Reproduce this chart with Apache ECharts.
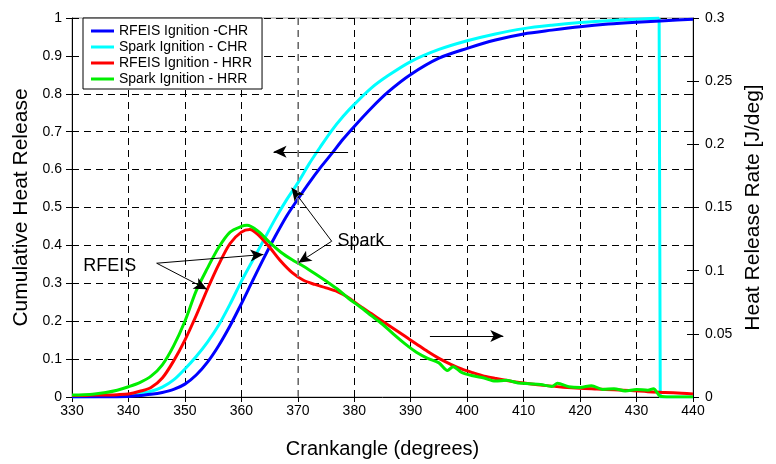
<!DOCTYPE html>
<html>
<head>
<meta charset="utf-8">
<script src="https://cdn.jsdelivr.net/npm/echarts@6/dist/echarts.min.js"></script>
<style>
  html, body { margin: 0; padding: 0; background: #fff; }
  #chart { width: 776px; height: 464px; }
</style>
</head>
<body>
<div id="chart"></div>
<script>
// Cumulative heat release (fraction) vs crank angle
const rfeisCHRx = [330, 335, 338, 340, 342, 344, 346, 348, 350, 352, 354, 356, 358, 360, 362, 364, 366, 368, 370, 372, 374, 376, 378, 380, 383, 386, 390, 395, 400, 405, 410, 415, 420, 425, 430, 435, 440];
const rfeisCHR = [0, 0, 0, 0.001, 0.004, 0.007, 0.012, 0.02, 0.034, 0.058, 0.092, 0.136, 0.188, 0.246, 0.307, 0.367, 0.424, 0.477, 0.522, 0.565, 0.605, 0.642, 0.68, 0.714, 0.762, 0.805, 0.851, 0.894, 0.92, 0.942, 0.958, 0.968, 0.977, 0.984, 0.989, 0.993, 0.997];

const sparkCHRx = [330, 335, 338, 340, 342, 344, 346, 348, 350, 352, 354, 356, 358, 360, 362, 364, 366, 368, 370, 372, 374, 376, 378, 380, 383, 386, 390, 395, 400, 405, 410, 415, 420, 425, 430, 434];
const sparkCHR = [0, 0.001, 0.003, 0.005, 0.009, 0.015, 0.026, 0.045, 0.074, 0.107, 0.145, 0.19, 0.245, 0.305, 0.36, 0.415, 0.47, 0.52, 0.565, 0.615, 0.66, 0.703, 0.74, 0.772, 0.815, 0.848, 0.885, 0.917, 0.94, 0.958, 0.972, 0.981, 0.988, 0.993, 0.997, 1.0];
// the spark CHR trace falls straight to zero here and stays there
const sparkDropX = [434, 434.2, 440];
const sparkDrop = [1.0, 0, 0];

// Heat release rate [J/deg] vs crank angle
const rfeisHRRx = [330, 332, 334, 336, 338, 340, 342, 344, 346, 348, 350, 352, 354, 356, 358, 360, 361.5, 363, 365, 367, 369, 371, 373, 375, 377, 379, 381, 383, 385, 387, 389, 391, 393, 395, 397, 399, 401, 403, 405, 408, 411, 414, 417, 420, 423, 426, 429, 432, 435, 438, 440];
const rfeisHRR = [0.0012, 0.0012, 0.0015, 0.0015, 0.0018, 0.0024, 0.0045, 0.0075, 0.015, 0.0285, 0.045, 0.0645, 0.0855, 0.105, 0.1215, 0.1305, 0.1326, 0.1284, 0.1185, 0.1074, 0.0984, 0.0924, 0.0891, 0.0864, 0.0834, 0.0786, 0.072, 0.066, 0.06, 0.054, 0.048, 0.042, 0.036, 0.0306, 0.0261, 0.0222, 0.0192, 0.0165, 0.0147, 0.0123, 0.0105, 0.009, 0.0078, 0.0069, 0.0063, 0.0057, 0.0051, 0.0042, 0.0036, 0.003, 0.0024];

const sparkHRRx = [330, 332, 334, 336, 338, 340, 342, 344, 346, 348, 350, 352, 354, 356, 358, 360, 361, 363, 365, 367, 369, 371, 373, 375, 377, 379, 381, 383, 385, 387, 389, 391, 393, 395, 396.5, 397.5, 399, 401, 403, 405, 407, 409, 411, 413, 415, 416, 418, 420, 422, 424, 426, 428, 430, 432, 433, 434.2, 436, 440];
const sparkHRR = [0.0015, 0.0018, 0.0024, 0.0036, 0.0054, 0.0081, 0.0114, 0.0165, 0.0255, 0.0405, 0.06, 0.084, 0.102, 0.1185, 0.1305, 0.135, 0.1359, 0.1311, 0.1224, 0.1146, 0.1086, 0.1035, 0.0978, 0.0918, 0.0855, 0.078, 0.0714, 0.0645, 0.0576, 0.0495, 0.042, 0.0354, 0.0306, 0.027, 0.021, 0.024, 0.0195, 0.0168, 0.015, 0.0126, 0.0132, 0.0111, 0.0105, 0.0099, 0.0084, 0.0108, 0.0081, 0.0075, 0.009, 0.006, 0.0066, 0.0048, 0.006, 0.0054, 0.0066, 0.0006, 0, 0];

const seriesNames = ['RFEIS Ignition -CHR', 'Spark Ignition - CHR', 'RFEIS Ignition - HRR', 'Spark Ignition - HRR'];

const FONT = 'Liberation Sans, Arial, sans-serif';
const pairs = (xs, ys) => xs.map((x, i) => [x, ys[i]]);

const chart = echarts.init(document.getElementById('chart'));

const dashed = { color: '#000', width: 1, type: [7, 5] };
const tickStyle = { color: '#000', width: 1 };

// arrows, in (crank angle, cumulative heat release) coordinates
const arrows = [
  [[378.9, 0.647], [365.7, 0.647]],
  [[393.4, 0.161], [406.4, 0.161]],
  [[376.0, 0.411], [368.9, 0.552]],
  [[376.0, 0.411], [370.1, 0.354]],
  [[345.0, 0.353], [363.9, 0.376]],
  [[345.0, 0.353], [353.9, 0.284]]
];

const option = {
  animation: false,
  backgroundColor: '#fff',
  textStyle: { fontFamily: FONT },
  grid: {
    left: 72, right: 83, top: 18, bottom: 66,
    show: true, borderColor: '#999', borderWidth: 1
  },
  legend: {
    orient: 'vertical',
    left: 83, top: 18,
    padding: [6, 10, 3, 8],
    itemGap: 2,
    itemWidth: 23, itemHeight: 3,
    icon: 'rect',
    backgroundColor: '#fff',
    borderColor: '#000', borderWidth: 1,
    textStyle: { fontSize: 14, lineHeight: 14, color: '#000', fontFamily: FONT },
    data: seriesNames
  },
  xAxis: {
    type: 'value', min: 330, max: 440, interval: 10,
    name: 'Crankangle (degrees)', nameLocation: 'middle', nameGap: 42,
    nameTextStyle: { fontSize: 20, color: '#000', fontFamily: FONT },
    axisLine: { lineStyle: { color: '#000', width: 1 } },
    axisTick: { show: true, length: 5, lineStyle: tickStyle },
    axisLabel: { fontSize: 14, color: '#000', margin: 7, fontFamily: FONT },
    splitLine: { show: true, lineStyle: dashed }
  },
  yAxis: [
    {
      type: 'value', position: 'left', min: 0, max: 1, interval: 0.1,
      name: 'Cumulative Heat Release', nameLocation: 'middle', nameGap: 38,
      nameTextStyle: { fontSize: 21, color: '#000', fontFamily: FONT },
      axisLine: { show: true, lineStyle: { color: '#000', width: 1 } },
      axisTick: { show: true, length: 6, lineStyle: tickStyle },
      axisLabel: { fontSize: 14, color: '#000', margin: 10, fontFamily: FONT },
      splitLine: { show: true, lineStyle: dashed }
    },
    {
      type: 'value', position: 'right', min: 0, max: 0.3, interval: 0.05,
      name: 'Heat Release Rate [J/deg]', nameLocation: 'middle', nameGap: 49,
      nameTextStyle: { fontSize: 21, color: '#000', fontFamily: FONT },
      axisLine: { show: true, lineStyle: { color: '#000', width: 1 } },
      axisTick: { show: true, length: 6, lineStyle: tickStyle },
      axisLabel: { fontSize: 14, color: '#000', margin: 12, fontFamily: FONT },
      splitLine: { show: false }
    },
    // inner halves of the ticks
    {
      type: 'value', position: 'left', min: 0, max: 1, interval: 0.1,
      axisLine: { show: false }, axisLabel: { show: false }, splitLine: { show: false },
      axisTick: { show: true, inside: true, length: 6, lineStyle: tickStyle }
    },
    {
      type: 'value', position: 'right', min: 0, max: 1, interval: 0.1,
      axisLine: { show: false }, axisLabel: { show: false }, splitLine: { show: false },
      axisTick: { show: true, inside: true, length: 6, lineStyle: tickStyle }
    },
    {
      type: 'value', position: 'right', min: 0, max: 0.3, interval: 0.05,
      axisLine: { show: false }, axisLabel: { show: false }, splitLine: { show: false },
      axisTick: { show: true, inside: true, length: 6, lineStyle: tickStyle }
    }
  ],
  series: [
    {
      name: seriesNames[0], type: 'line', yAxisIndex: 0,
      data: pairs(rfeisCHRx, rfeisCHR),
      symbol: 'none', smooth: 0.3,
      lineStyle: { color: '#0000ff', width: 3 }, itemStyle: { color: '#0000ff' },
      markLine: {
        silent: true, symbol: ['none', 'arrow'], symbolSize: [9, 13],
        label: { show: false },
        lineStyle: { color: '#000', width: 1, type: 'solid' },
        emphasis: { disabled: true },
        data: arrows.map(a => [{ coord: a[0] }, { coord: a[1] }])
      },
      markPoint: {
        silent: true, symbol: 'circle', symbolSize: 1,
        itemStyle: { color: 'rgba(0,0,0,0)' },
        label: { show: true, position: 'inside', color: '#000', fontSize: 18, fontFamily: FONT, formatter: p => p.name },
        data: [
          { name: 'RFEIS', coord: [336.7, 0.345] },
          { name: 'Spark', coord: [381.2, 0.411] }
        ]
      }
    },
    {
      name: seriesNames[1], type: 'line', yAxisIndex: 0,
      data: pairs(sparkCHRx, sparkCHR),
      symbol: 'none', smooth: 0.3,
      lineStyle: { color: '#00ffff', width: 3 }, itemStyle: { color: '#00ffff' },
      markLine: {
        silent: true, symbol: 'none', label: { show: false },
        lineStyle: { color: '#8c8c8c', width: 1.5, type: [7, 5] },
        data: [{ xAxis: 370 }]
      },
      z: 2
    },
    {
      // vertical fall of the spark CHR trace, same look, kept out of the legend
      name: 'sparkDrop', type: 'line', yAxisIndex: 0,
      data: pairs(sparkDropX, sparkDrop),
      symbol: 'none', smooth: false,
      lineStyle: { color: '#00ffff', width: 3 },
      z: 2
    },
    {
      name: seriesNames[2], type: 'line', yAxisIndex: 1,
      data: pairs(rfeisHRRx, rfeisHRR),
      symbol: 'none', smooth: 0.3,
      lineStyle: { color: '#ff0000', width: 3 }, itemStyle: { color: '#ff0000' },
      z: 3
    },
    {
      name: seriesNames[3], type: 'line', yAxisIndex: 1,
      data: pairs(sparkHRRx, sparkHRR),
      symbol: 'none', smooth: 0.3,
      lineStyle: { color: '#00ee00', width: 3 }, itemStyle: { color: '#00ee00' },
      z: 4
    }
  ]
};

chart.setOption(option);
</script>
</body>
</html>
